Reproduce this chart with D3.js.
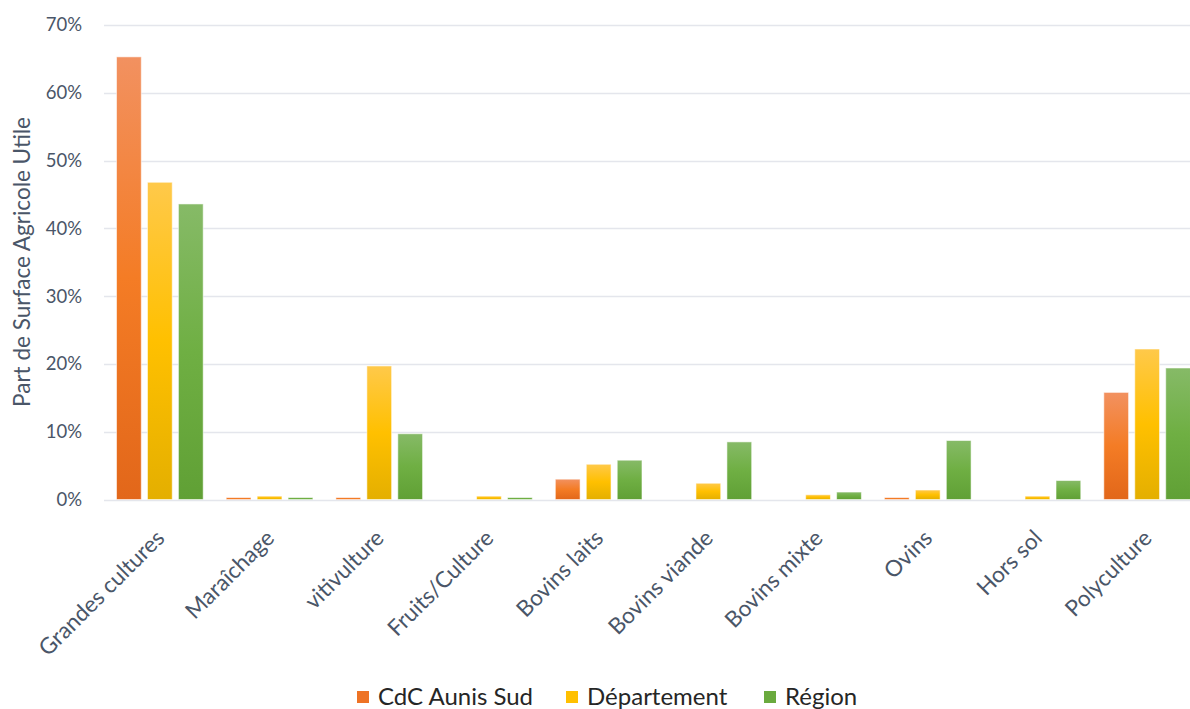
<!DOCTYPE html>
<html><head><meta charset="utf-8">
<script src="https://cdn.jsdelivr.net/npm/d3@7"></script>
<style>
html,body{margin:0;padding:0;background:#fff;}
svg{display:block;}
text{font-family:Lato,"Open Sans",sans-serif;}
</style></head>
<body>
<svg id="chart" width="1190" height="709"></svg>
<script>
const categories = ["Grandes cultures","Maraîchage","vitivulture","Fruits/Culture","Bovins laits","Bovins viande","Bovins mixte","Ovins","Hors sol","Polyculture"];
const seriesNames = ["CdC Aunis Sud","Département","Région"];
const cdcValues = [65.3, 0.3, 0.3, 0, 3.0, 0, 0, 0.3, 0, 15.8];
const departementValues = [46.8, 0.5, 19.7, 0.5, 5.2, 2.4, 0.7, 1.4, 0.5, 22.2];
const regionValues = [43.6, 0.3, 9.7, 0.3, 5.8, 8.5, 1.1, 8.7, 2.8, 19.4];
const yTicks = [0, 10, 20, 30, 40, 50, 60, 70];
const yTitle = "Part de Surface Agricole Utile";

const seriesValues = [cdcValues, departementValues, regionValues];
const gradStops = [
  ["#F29160", "#F47C25", "#E2671A"],
  ["#FFC94A", "#FFC000", "#E4AF00"],
  ["#86BA67", "#6FAF43", "#60A035"]
];
const legendColors = ["#EE7325", "#FFC000", "#6AAA3E"];

const svg = d3.select("#chart");
const defs = svg.append("defs");
gradStops.forEach((s, i) => {
  const g = defs.append("linearGradient").attr("id", "g" + i)
    .attr("x1", 0).attr("y1", 0).attr("x2", 0).attr("y2", 1);
  g.append("stop").attr("offset", "0%").attr("stop-color", s[0]);
  g.append("stop").attr("offset", "50%").attr("stop-color", s[1]);
  g.append("stop").attr("offset", "100%").attr("stop-color", s[2]);
});

const y = d3.scaleLinear().domain([0, 70]).range([499.5, 25]);
const x0 = d3.scaleBand().domain(categories).range([105, 1202]).paddingInner(0.21).paddingOuter(0.105);
const x1 = d3.scaleBand().domain(seriesNames).range([0, x0.bandwidth()]).paddingInner(0.2).paddingOuter(0);

// gridlines
svg.append("g").selectAll("line").data(yTicks).join("line")
  .attr("x1", 104).attr("x2", 1190)
  .attr("y1", d => Math.round(y(d)) + 0.5).attr("y2", d => Math.round(y(d)) + 0.5)
  .attr("stroke", "#E4E6EC").attr("stroke-width", 1.5);

// y axis labels
const yAxis = d3.axisLeft(y).tickValues(yTicks).tickFormat(d => d + "%").tickSize(0).tickPadding(0);
const yg = svg.append("g").attr("transform", "translate(82,0)").call(yAxis);
yg.select(".domain").remove();
yg.selectAll("text").attr("font-size", 18.5).attr("fill", "#4A5668").attr("font-family", "Lato,sans-serif");

// y title
svg.append("text").attr("transform", "translate(30,262) rotate(-90)")
  .attr("text-anchor", "middle").attr("font-size", 22.5).attr("fill", "#4A5668")
  .text(yTitle);

// bars
const groups = svg.append("g").selectAll("g").data(categories).join("g")
  .attr("transform", d => `translate(${x0(d)},0)`);
groups.selectAll("rect").data((d, ci) => seriesNames.map((s, si) => ({s, si, v: seriesValues[si][ci]})))
  .join("rect")
  .filter(d => d.v > 0)
  .attr("x", d => x1(d.s)).attr("width", x1.bandwidth())
  .attr("y", d => y(d.v)).attr("height", d => y(0) - y(d.v))
  .attr("fill", d => `url(#g${d.si})`)
  .attr("stroke", "rgba(255,255,255,0.55)").attr("stroke-width", 1);

// x labels
const xAxis = d3.axisBottom(x0).tickSize(0).tickPadding(0);
const xg = svg.append("g").attr("transform", "translate(0,499.5)").call(xAxis);
xg.select(".domain").remove();
xg.selectAll("text")
  .attr("font-size", 22.5).attr("fill", "#4A5668").attr("font-family", "Lato,sans-serif")
  .attr("text-anchor", "end").attr("dy", 0).attr("y", 0)
  .attr("transform", "translate(6,40) rotate(-45)");

// legend
const legend = svg.append("g").attr("transform", "translate(0,697)");
const legendX = [357, 566, 764];
seriesNames.forEach((n, i) => {
  legend.append("rect").attr("x", legendX[i]).attr("y", -6).attr("width", 12).attr("height", 12)
    .attr("fill", legendColors[i]);
  legend.append("text").attr("x", legendX[i] + 21).attr("y", 0).attr("dy", "0.35em")
    .attr("font-size", 24).attr("fill", "#262626").text(n);
});
</script>
</body></html>
